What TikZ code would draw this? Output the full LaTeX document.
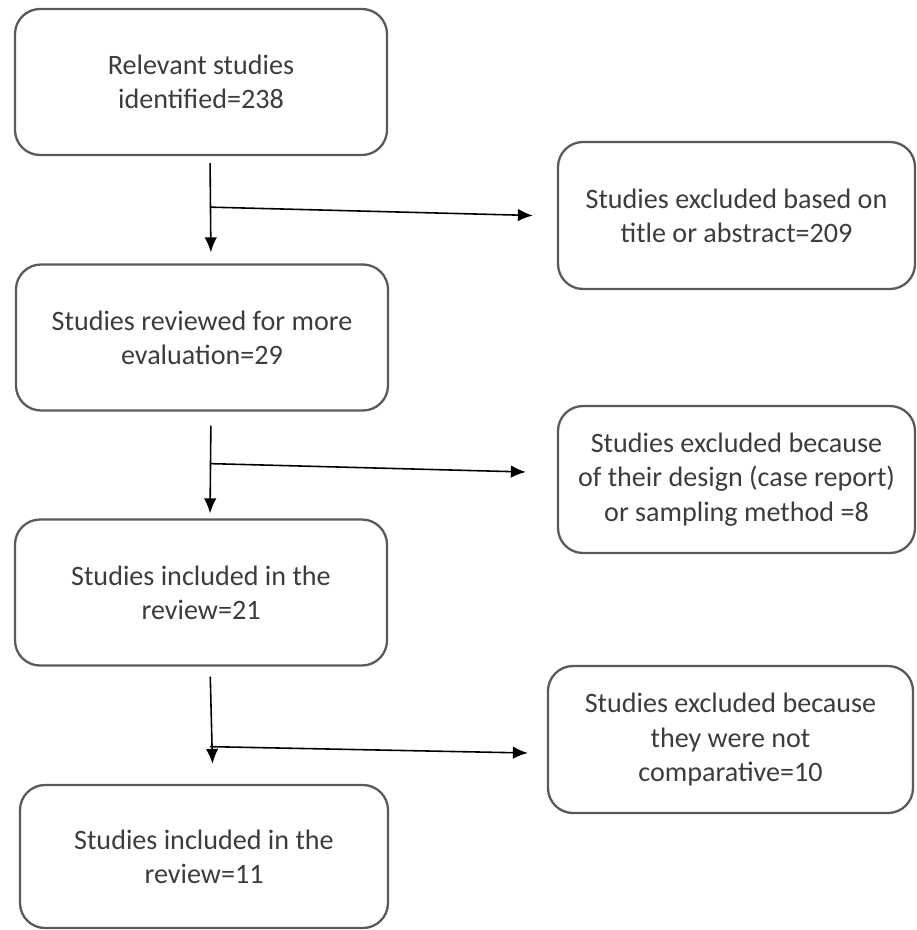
\documentclass[tikz,border=0pt]{standalone}
\usepackage{fontspec}
\setmainfont{Carlito}
\usetikzlibrary{arrows.meta}
\definecolor{boxgray}{RGB}{90,90,90}
\definecolor{textgray}{RGB}{60,60,60}

\begin{document}
\begin{tikzpicture}[
      stage/.style={rectangle, rounded corners=0.5cm, draw=boxgray, line width=1.3pt,
                    minimum width=7.44cm, minimum height=2.92cm, align=center,
                    text=textgray, font=\fontsize{16}{19.5}\selectfont},
      flow/.style={-{Latex[length=0.3cm, width=0.25cm]}, line width=0.9pt}]
    \useasboundingbox (0,0) rectangle (18.32,-18.6);
    % left column
    \node[stage] (found) at (4.02, -1.64) {Relevant studies \\ identified=238};
    \node[stage] (reviewed) at (4.04, -6.75) {Studies reviewed for more \\ evaluation=29};
    \node[stage] (included) at (4.02, -11.85) {Studies included in the \\ review=21};
    \node[stage, minimum width=7.36cm, minimum height=2.86cm] (final) at (4.08, -17.13)
      {Studies included in the \\ review=11};
    % right column
    \node[stage, minimum width=7.14cm, minimum height=2.94cm] (screen) at (14.73, -4.31)
      {Studies excluded based on \\ title or abstract=209};
    \node[stage, minimum width=7.14cm, minimum height=2.94cm] (design) at (14.73, -9.59)
      {Studies excluded because \\ of their design (case report) \\ or sampling method =8};
    \node[stage, minimum width=7.3cm, minimum height=2.94cm] (compar) at (14.61, -14.79)
      {Studies excluded because \\ they were not \\ comparative=10};
    % arrows
    \foreach \a/\b/\s/\e in {found/reviewed/0.14/0.22, reviewed/included/0.28/0.1,
                             included/final/0.2/0.4}
      \draw[flow, shorten <=\s cm, shorten >=\e cm]
        ([xshift=0.18cm]\a.south) -- ([xshift=0.18cm]\b.north);
    \coordinate (j1) at ([xshift=0.18cm, yshift=-1.02cm]found.south);
    \coordinate (j2) at ([xshift=0.18cm, yshift=-1.04cm]reviewed.south);
    \coordinate (j3) at ([xshift=0.18cm, yshift=-1.6cm]included.south);
    \coordinate (e1) at ([xshift=-0.48cm]screen.west);
    \coordinate (e2) at ([xshift=-0.62cm, yshift=0.15cm]design.west);
    \coordinate (e3) at ([xshift=-0.38cm, yshift=-0.27cm]compar.west);
    \foreach \j/\t in {j1/e1, j2/e2, j3/e3}
      \draw[flow] (\j) -- (\t);
  \end{tikzpicture}
\end{document}
